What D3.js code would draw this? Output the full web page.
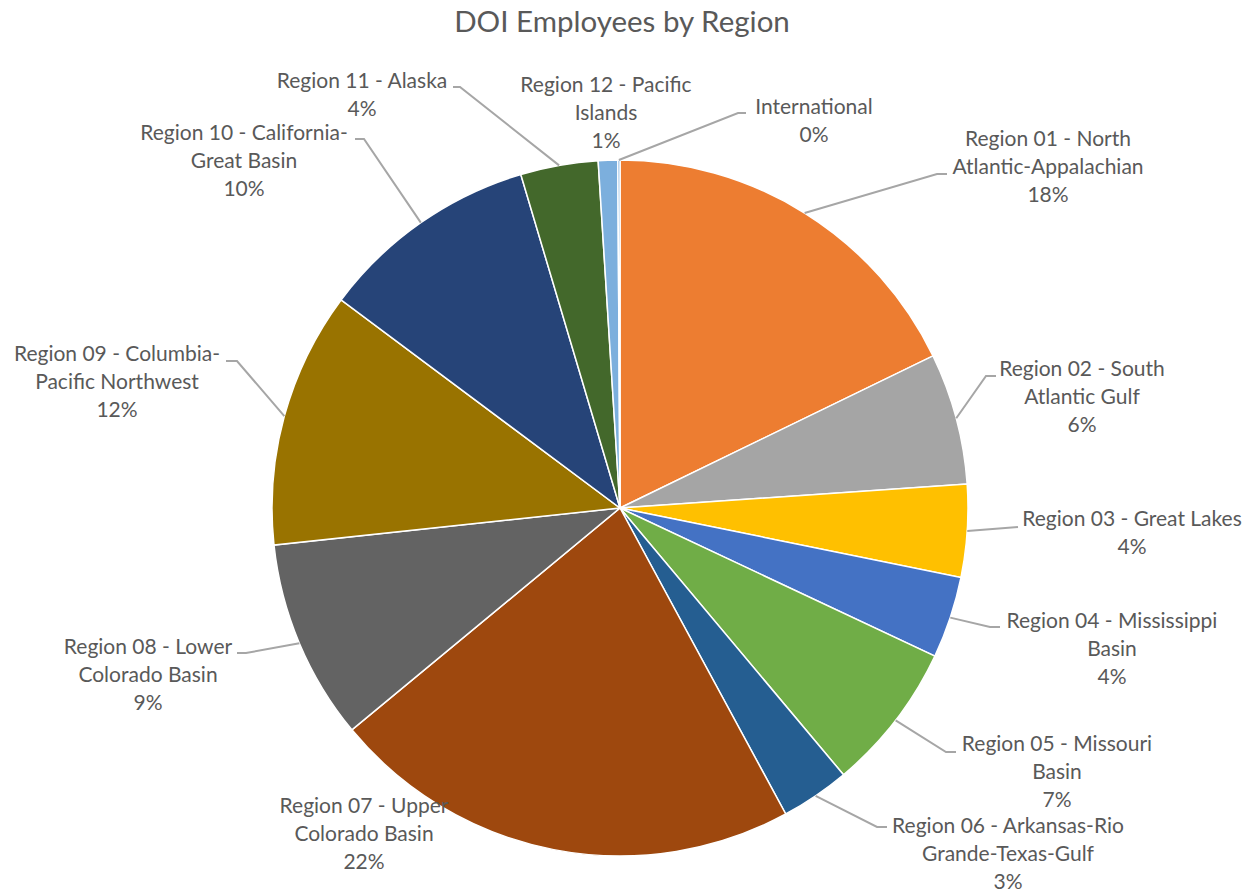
<!DOCTYPE html>
<html>
<head>
<meta charset="utf-8">
<script src="https://cdn.jsdelivr.net/npm/d3@7"></script>
<style>
  body { margin: 0; background: #fff; }
  text { font-family: Lato, "Open Sans", sans-serif; fill: #595959; }
</style>
</head>
<body>
<script>
// share of employees per region (percent), clockwise from 12 o'clock
const categories = [
  "Region 01 - North\nAtlantic-Appalachian",
  "Region 02 - South\nAtlantic Gulf",
  "Region 03 - Great Lakes",
  "Region 04 - Mississippi\nBasin",
  "Region 05 - Missouri\nBasin",
  "Region 06 - Arkansas-Rio\nGrande-Texas-Gulf",
  "Region 07 - Upper\nColorado Basin",
  "Region 08 - Lower\nColorado Basin",
  "Region 09 - Columbia-\nPacific Northwest",
  "Region 10 - California-\nGreat Basin",
  "Region 11 - Alaska",
  "Region 12 - Pacific\nIslands",
  "International"
];
const values = [17.8, 6.1, 4.3, 3.8, 6.9, 3.2, 21.9, 9.3, 11.9, 10.2, 3.6, 0.9, 0.1];
const colors = ["#ED7D31", "#A5A5A5", "#FFC000", "#4472C4", "#70AD47", "#255E91",
  "#9E480E", "#636363", "#997300", "#264478", "#43682B", "#7CAFDD", "#5B9BD5"];

// label placement: centre x, first baseline y, leader elbow x/y, leader end x (null = no leader)
const labelLayout = [
  [1048, 146, 937, 174, 947],
  [1082, 376, 986, 376, 996],
  [1132, 526, 1018, 527, null],
  [1112, 628, 990, 627, 1000],
  [1057, 751, 946, 752, 956],
  [1008, 833, 877, 827, 887],
  [364, 813, null, null, null],
  [148, 654, 246, 653, 237],
  [117, 361, 237, 361, 226],
  [244, 140, 364, 139, 355],
  [362, 88, 460, 87, 453],
  [606, 92, null, null, null],
  [814, 114, 738, 113, 746]
];

const W = 1255, H = 892;
const cx = 620, cy = 508, r = 348;
const lineH = 28;

const svg = d3.select("body").append("svg")
  .attr("width", W)
  .attr("height", H);

svg.append("text")
  .attr("x", 622)
  .attr("y", 32)
  .attr("text-anchor", "middle")
  .style("font-size", "29.5px")
  .text("DOI Employees by Region");

const total = d3.sum(values);
const pie = d3.pie().sort(null).value(d => d)(values);
const arc = d3.arc().innerRadius(0).outerRadius(r);
const edge = d3.arc().innerRadius(r).outerRadius(r);

const g = svg.append("g").attr("transform", "translate(" + cx + "," + cy + ")");

g.selectAll("path.slice")
  .data(pie)
  .enter()
  .append("path")
  .attr("class", "slice")
  .attr("d", arc)
  .attr("fill", (d, i) => colors[i])
  .attr("stroke", "#fff")
  .attr("stroke-width", 1.5);

// leader lines
pie.forEach((d, i) => {
  const L = labelLayout[i];
  if (L[2] === null) return;
  const p = edge.centroid(d);
  const pts = [[p[0] + cx, p[1] + cy], [L[2], L[3]]];
  if (L[4] !== null) pts.push([L[4], L[3]]);
  svg.append("path")
    .attr("d", d3.line()(pts))
    .attr("fill", "none")
    .attr("stroke", "#A6A6A6")
    .attr("stroke-width", 2);
});

// labels
pie.forEach((d, i) => {
  const L = labelLayout[i];
  const lines = categories[i].split("\n");
  lines.push(Math.round(values[i] / total * 100) + "%");
  const t = svg.append("text")
    .attr("text-anchor", "middle")
    .style("font-size", "21px");
  lines.forEach((s, k) => {
    t.append("tspan")
      .attr("x", L[0])
      .attr("y", L[1] + k * lineH)
      .text(s);
  });
});
</script>
</body>
</html>
